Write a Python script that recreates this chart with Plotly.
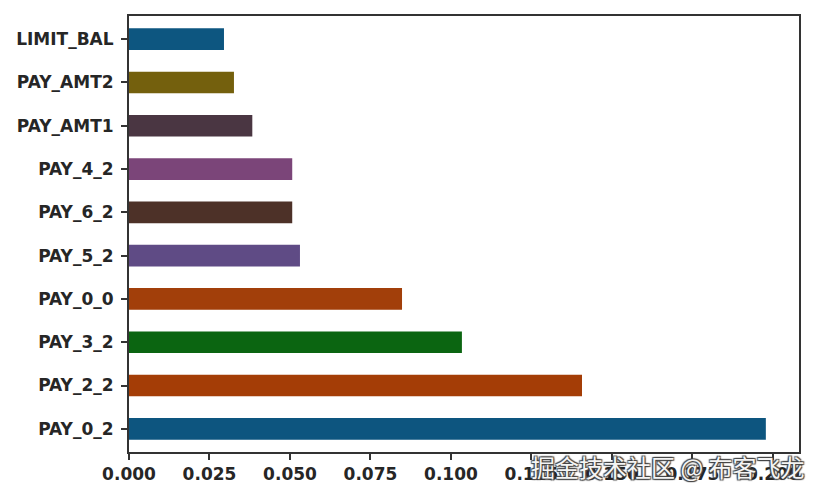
import plotly.graph_objects as go

features = ["PAY_0_2", "PAY_2_2", "PAY_3_2", "PAY_0_0", "PAY_5_2",
            "PAY_6_2", "PAY_4_2", "PAY_AMT1", "PAY_AMT2", "LIMIT_BAL"]
importances = [0.1978, 0.1407, 0.1034, 0.0848, 0.0531,
               0.0507, 0.0507, 0.0383, 0.0326, 0.0295]
bar_colors = ["#0d557f", "#a43d06", "#0b6511", "#a23f0a", "#5f4b85",
              "#4d3128", "#7b4579", "#4a3642", "#74600d", "#0d5680"]
x_ticks = [0.0, 0.025, 0.05, 0.075, 0.1, 0.125, 0.15, 0.175, 0.2]
x_tick_labels = ["0.000", "0.025", "0.050", "0.075", "0.100",
                 "0.125", "0.150", "0.175", "0.200"]
watermark = "掘金技术社区 @ 布客飞龙"

fig = go.Figure(go.Bar(
    x=importances, y=features, orientation="h",
    marker=dict(color=bar_colors, line=dict(width=0)),
    width=0.5,
))

axis_font = dict(family="DejaVu Sans", size=17, color="#262626", weight="bold")

fig.update_layout(
    width=822, height=500,
    margin=dict(l=129, r=23, t=16, b=48),
    paper_bgcolor="white", plot_bgcolor="white",
    showlegend=False,
    xaxis=dict(range=[0, 0.2081], tickvals=x_ticks, ticktext=x_tick_labels,
               automargin=False,
               showgrid=False, zeroline=False, showline=True, linecolor="#333333",
               linewidth=2, mirror=True, ticks="outside", ticklen=6, tickwidth=2,
               tickcolor="#333333", tickfont=axis_font),
    yaxis=dict(categoryorder="array", categoryarray=features, range=[-0.535, 9.535],
               automargin=False, ticklabelstandoff=4,
               showgrid=False, zeroline=False, showline=True, linecolor="#333333",
               linewidth=2, mirror=True, ticks="outside", ticklen=6, tickwidth=2,
               tickcolor="#333333", tickfont=axis_font),
    annotations=[dict(text=watermark, xref="paper", yref="paper",
                      x=1.01, y=-0.034, xanchor="right", yanchor="middle",
                      showarrow=False,
                      font=dict(family="Noto Sans CJK SC", size=24, color="#f4f4f4",
                                shadow="1px 1px 1px #444, -1px -1px 1px #444, 1px -1px 1px #444, -1px 1px 1px #444"))],
)

fig.write_html("out.html", config={"displayModeBar": False},
               post_script="document.body.style.margin='0';")
